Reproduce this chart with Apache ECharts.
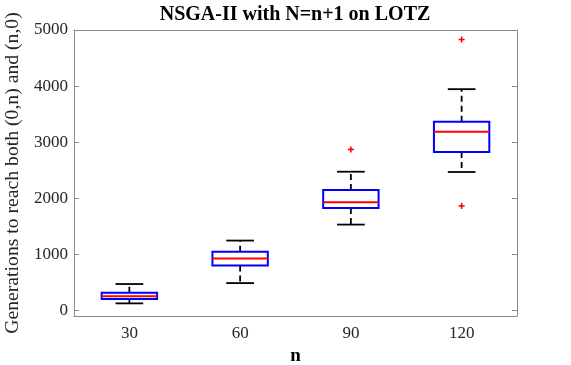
<!DOCTYPE html>
<html><head><meta charset="utf-8">
<script src="https://cdn.jsdelivr.net/npm/echarts@6/dist/echarts.min.js"></script>
<style>html,body{margin:0;padding:0;background:#fff}#c{width:571px;height:365px}</style>
</head><body><div id="c"></div>
<script>
const categories = ['30', '60', '90', '120'];
// [lower whisker, q1, median, q3, upper whisker]
const lowerWhisker = [125, 487, 1530, 2468];
const q1 = [203, 800, 1827, 2824];
const median = [250, 925, 1929, 3185];
const q3 = [315, 1045, 2148, 3363];
const upperWhisker = [470, 1245, 2473, 3945];
// outliers: [category index, value]
const outlierCat = [2, 3, 3];
const outlierVal = [2870, 4830, 1863];
const yTicks = [0, 1000, 2000, 3000, 4000, 5000];

const boxData = categories.map((c, i) => [i, lowerWhisker[i], q1[i], median[i], q3[i], upperWhisker[i]]);
const outData = outlierCat.map((c, i) => [c, outlierVal[i]]);

const axisColor = '#8a8a8a';
const textColor = '#262626';
const font = '"Liberation Serif", "Times New Roman", serif';

function renderBox(params, api) {
  const idx = api.value(0);
  const band = api.size([1, 0])[0];
  const half = band * 0.25;
  const capHalf = band * 0.125;
  const pLow = api.coord([idx, api.value(1)]);
  const pQ1 = api.coord([idx, api.value(2)]);
  const pMed = api.coord([idx, api.value(3)]);
  const pQ3 = api.coord([idx, api.value(4)]);
  const pHigh = api.coord([idx, api.value(5)]);
  const x = pMed[0];
  const blk = { stroke: '#000', lineWidth: 1.8 };
  const dsh = { stroke: '#000', lineWidth: 1.8, lineDash: [6, 4] };
  return {
    type: 'group',
    children: [
      { type: 'line', shape: { x1: x, y1: pQ3[1], x2: x, y2: pHigh[1] }, style: dsh },
      { type: 'line', shape: { x1: x, y1: pQ1[1], x2: x, y2: pLow[1] }, style: dsh },
      { type: 'line', shape: { x1: x - capHalf, y1: pHigh[1], x2: x + capHalf, y2: pHigh[1] }, style: blk },
      { type: 'line', shape: { x1: x - capHalf, y1: pLow[1], x2: x + capHalf, y2: pLow[1] }, style: blk },
      { type: 'rect', shape: { x: x - half, y: pQ3[1], width: half * 2, height: pQ1[1] - pQ3[1] }, style: { fill: 'none', stroke: '#0000ff', lineWidth: 2 } },
      { type: 'line', shape: { x1: x - half, y1: pMed[1], x2: x + half, y2: pMed[1] }, style: { stroke: '#ff0000', lineWidth: 2 } }
    ]
  };
}

function renderOut(params, api) {
  const p = api.coord([api.value(0), api.value(1)]);
  const s = 3;
  const st = { stroke: '#ff0000', lineWidth: 1.6 };
  return {
    type: 'group',
    children: [
      { type: 'line', shape: { x1: p[0] - s, y1: p[1], x2: p[0] + s, y2: p[1] }, style: st },
      { type: 'line', shape: { x1: p[0], y1: p[1] - s, x2: p[0], y2: p[1] + s }, style: st }
    ]
  };
}

const chart = echarts.init(document.getElementById('c'), null, { renderer: 'canvas' });
chart.setOption({
  animation: false,
  backgroundColor: '#fff',
  title: {
    text: 'NSGA-II with N=n+1 on LOTZ',
    left: 290, top: 0, textAlign: 'center',
    textStyle: { fontFamily: font, fontSize: 20, fontWeight: 'bold', color: '#000' }
  },
  grid: { left: 74, right: 54, top: 30, bottom: 49, containLabel: false, outerBoundsMode: 'none' },
  xAxis: [{
    type: 'category', data: categories, boundaryGap: true,
    name: 'n', nameLocation: 'middle', nameGap: 31,
    nameTextStyle: { fontFamily: font, fontSize: 19, fontWeight: 'bold', color: '#000' },
    axisLine: { onZero: false, lineStyle: { color: axisColor, width: 1 } },
    axisTick: { inside: true, alignWithLabel: true, length: 5, lineStyle: { color: axisColor } },
    axisLabel: { fontFamily: font, fontSize: 17, color: textColor, margin: 9 },
    splitLine: { show: false }
  }, {
    type: 'category', data: categories, boundaryGap: true, position: 'top',
    axisLine: { onZero: false, lineStyle: { color: axisColor, width: 1 } },
    axisTick: { inside: true, alignWithLabel: true, length: 5, lineStyle: { color: axisColor } },
    axisLabel: { show: false }, splitLine: { show: false }
  }],
  yAxis: [{
    type: 'value', min: -100, max: 5000,
    name: 'Generations to reach both (0,n) and (n,0)', nameLocation: 'middle', nameGap: 45, nameRotate: 90,
    nameTextStyle: { fontFamily: font, fontSize: 19.7, color: textColor },
    axisLine: { show: true, onZero: false, lineStyle: { color: axisColor, width: 1 } },
    axisTick: { show: true, inside: true, length: 5, customValues: yTicks, lineStyle: { color: axisColor } },
    axisLabel: { fontFamily: font, fontSize: 17, color: textColor, margin: 6, customValues: yTicks, formatter: v => String(v) },
    splitLine: { show: false }
  }, {
    type: 'value', min: -100, max: 5000, position: 'right',
    axisLine: { show: true, onZero: false, lineStyle: { color: axisColor, width: 1 } },
    axisTick: { show: true, inside: true, length: 5, customValues: yTicks, lineStyle: { color: axisColor } },
    axisLabel: { show: false }, splitLine: { show: false }
  }],
  series: [{
    type: 'custom', renderItem: renderBox, data: boxData,
    encode: { x: 0, y: [1, 2, 3, 4, 5] }, xAxisIndex: 0, yAxisIndex: 0
  }, {
    type: 'custom', renderItem: renderOut, data: outData,
    encode: { x: 0, y: 1 }, xAxisIndex: 0, yAxisIndex: 0
  }]
});
</script></body></html>
